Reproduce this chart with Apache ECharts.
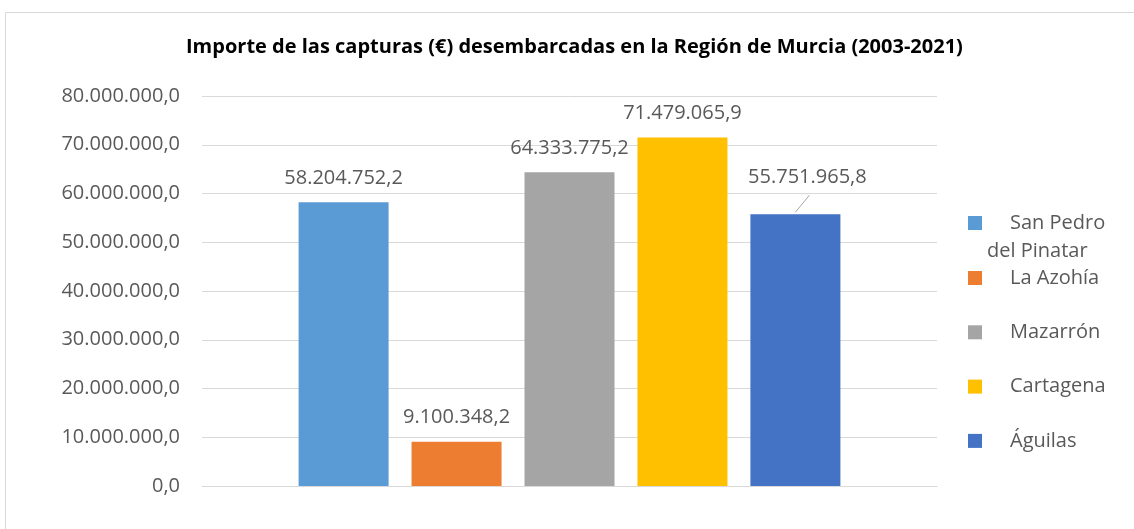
<!DOCTYPE html>
<html>
<head>
    <meta charset="UTF-8">
    <title>capturas</title>
    <script type="text/javascript" src="https://cdn.jsdelivr.net/npm/echarts@6/dist/echarts.min.js"></script>
</head>
<style>
    body { margin: 0; background: #fff; }
    .main { width: 1134px; height: 529px; }
</style>
<body>
<div id="charts" class="main"></div>
<script type="text/javascript">
    // datos
    var categories = ['Importe'];
    var puertos = ['San Pedro del Pinatar', 'La Azohía', 'Mazarrón', 'Cartagena', 'Águilas'];
    var importes = [58204752.2, 9100348.2, 64333775.2, 71479065.9, 55751965.8];
    var colores = ['#5B9BD5', '#ED7D31', '#A5A5A5', '#FFC000', '#4472C4'];
    var yTicks = [0, 80000000, 10000000]; // min, max, interval

    // formato español: 1.234.567,8
    function fmt(v) {
        var s = Number(v).toFixed(1).split('.');
        var ent = s[0].replace(/\B(?=(\d{3})+(?!\d))/g, '.');
        return ent + ',' + s[1];
    }

    var font = "'Open Sans', 'Noto Sans', sans-serif";
    var gris = '#595959';

    var series = [];
    for (var i = 0; i < puertos.length; i++) {
        var s = {
            name: puertos[i],
            type: 'bar',
            data: [importes[i]],
            barWidth: 90,
            barGap: '25.5%',
            itemStyle: { color: colores[i] },
            label: {
                show: true,
                position: 'top',
                distance: 14,
                formatter: function (p) { return fmt(p.value); },
                fontFamily: font,
                fontSize: 20,
                color: gris
            }
        };
        if (i === 4) {
            // etiqueta desplazada, como en el original
            s.labelLayout = { dx: 12, dy: -13 };
        }
        series.push(s);
    }

    var marco = {
        type: 'rect',
        shape: { x: 5.5, y: 12.5, width: 1200, height: 600 },
        style: { fill: 'none', stroke: '#d9d9d9', lineWidth: 1 },
        silent: true
    };

    var myChart = echarts.init(document.getElementById('charts'));
    var option = {
        animation: false,
        title: {
            text: 'Importe de las capturas (€) desembarcadas en la Región de Murcia (2003-2021)',
            left: 186,
            top: 37,
            padding: 0,
            textStyle: {
                fontFamily: font,
                fontWeight: 'bold',
                fontSize: 20,
                color: '#000'
            }
        },
        graphic: [marco],
        grid: { left: 202, right: 197, top: 96, bottom: 43 },
        legend: [{
            orient: 'vertical',
            left: 968,
            top: 181,
            padding: 0,
            itemWidth: 14,
            itemHeight: 14,
            icon: 'rect',
            data: [puertos[0]],
            formatter: function () { return '{s|}San Pedro\ndel Pinatar'; },
            textStyle: {
                fontFamily: font,
                fontSize: 20,
                lineHeight: 28,
                color: gris,
                padding: [28, 0, 0, 0],
                rich: { s: { width: 23 } }
            }
        }, {
            orient: 'vertical',
            left: 968,
            top: 268,
            padding: 0,
            itemWidth: 14,
            itemHeight: 14,
            itemGap: 34.3,
            icon: 'rect',
            data: puertos.slice(1),
            textStyle: {
                fontFamily: font,
                fontSize: 20,
                lineHeight: 20,
                color: gris,
                padding: [0, 0, 0, 23]
            }
        }],
        xAxis: {
            type: 'category',
            data: categories,
            axisLabel: { show: false },
            axisTick: { show: false },
            axisLine: { lineStyle: { color: '#d9d9d9', width: 1 } }
        },
        yAxis: {
            type: 'value',
            min: yTicks[0],
            max: yTicks[1],
            interval: yTicks[2],
            axisLine: { show: false },
            axisTick: { show: false },
            splitLine: { lineStyle: { color: '#d9d9d9', width: 1 } },
            axisLabel: {
                formatter: fmt,
                margin: 22,
                fontFamily: font,
                fontSize: 20,
                color: gris
            }
        },
        series: series
    };
    option && myChart.setOption(option);

    // línea guía de la etiqueta de Águilas, desde la cima de la barra
    var lay = myChart.getModel().getSeriesByIndex(4).getData().getItemLayout(0);
    if (lay) {
        var topY = Math.min(lay.y, lay.y + lay.height);
        var cx = lay.x + lay.width / 2;
        myChart.setOption({
            graphic: [marco, {
                type: 'line',
                shape: { x1: cx, y1: topY - 2, x2: cx + 14, y2: topY - 19 },
                style: { stroke: '#a6a6a6', lineWidth: 1 },
                silent: true
            }]
        });
    }
</script>
</body>
</html>
